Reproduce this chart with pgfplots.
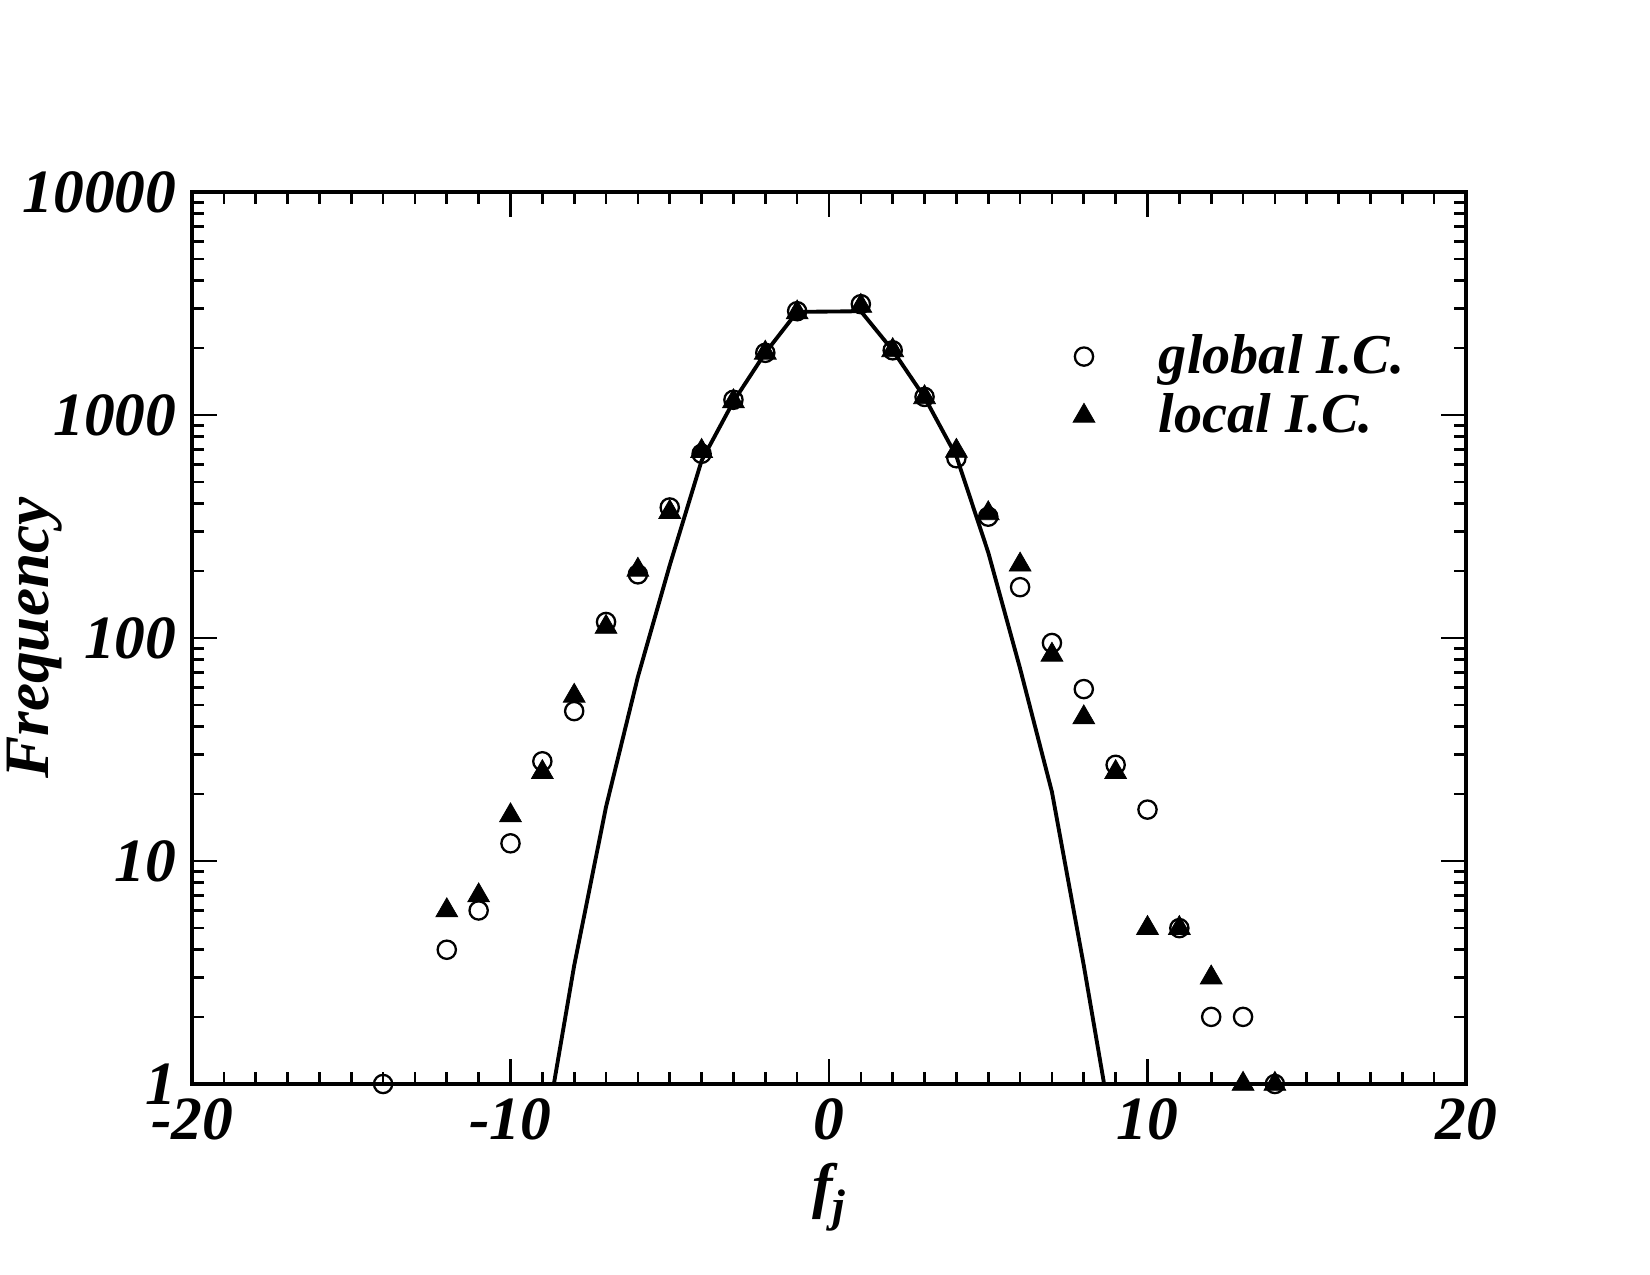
\documentclass[border=0pt]{standalone}
\usepackage{fontspec}
\setmainfont{Liberation Serif}
\usepackage{pgfplots}
\pgfplotsset{compat=1.18}

\begin{document}
\begin{tikzpicture}
\path[use as bounding box] (-19.2mm,-19.1mm) rectangle (145.8mm,108.4mm);
\begin{axis}[
  at={(0,0)}, anchor=south west,
  scale only axis, width=127.4mm, height=89.2mm,
  xmin=-20, xmax=20, ymin=1, ymax=10000, ymode=log,
  xtick={-20,-10,0,10,20},
  xticklabels={-20,-10,0,10,20},
  minor x tick num=9,
  ytick={1,10,100,1000,10000},
  yticklabels={1,10,100,1000,10000},
  tick align=inside, tick pos=both,
  major tick length=2.5mm, minor tick length=1.2mm,
  every tick/.style={black, line width=0.75pt},
  axis line style={line width=1.3pt},
  tick label style={font=\fontsize{17.5}{20}\selectfont\bfseries\itshape},
  xticklabel style={inner sep=0pt, yshift=-1.4mm},
  yticklabel style={inner sep=0pt, xshift=-1.5mm},
  xlabel={f\raisebox{-0.55ex}{\fontsize{13}{15}\selectfont j}},
  xlabel style={font=\fontsize{17.5}{20}\selectfont\bfseries\itshape, at={(axis description cs:0.5,0)}, anchor=north, inner sep=0pt, yshift=-7.8mm},
  ylabel={Frequency},
  ylabel style={font=\fontsize{18}{21}\selectfont\bfseries\itshape, at={(axis description cs:-0.101,0.5)}, anchor=south, inner sep=0pt},
  legend style={at={(0.691,0.849)}, anchor=north west, draw=none, fill=none, inner sep=0pt, column sep=5.7mm, row sep=0.1mm,
    font=\fontsize{16}{19}\selectfont\bfseries\itshape},
  legend cell align=left,
]
\addplot[black, line width=1.1pt, forget plot] coordinates {
(-9,0.5) (-8,3.4) (-7,17.5) (-6,67) (-5,212) (-4,624) (-3,1150) (-2,1900) (-1,2900)
(0,2910) (1,2920) (2,1950) (3,1200) (4,653) (5,242) (6,73) (7,20.4) (8,3.4) (9,0.5)
};
\addplot[only marks, mark=o, mark size=2.6pt, mark options={line width=0.65pt, black}] coordinates {
(-14,1) (-12,4) (-11,6) (-10,12) (-9,28) (-8,47) (-7,118) (-6,193) (-5,385) (-4,670)
(-3,1170) (-2,1900) (-1,2920) (1,3140) (2,1950) (3,1205) (4,640) (5,350) (6,169)
(7,95) (8,59) (9,27) (10,17) (11,5) (12,2) (13,2) (14,1)
};
\addlegendentry{global I.C.}
\addplot[only marks, mark=triangle*, mark size=3.6pt, mark options={fill=black, draw=black, line width=0.2pt}] coordinates {
(-12,6) (-11,7) (-10,16) (-9,25) (-8,55) (-7,112) (-6,202) (-5,367) (-4,689)
(-3,1150) (-2,1900) (-1,2880) (1,3080) (2,1950) (3,1200) (4,690) (5,362) (6,213)
(7,84) (8,44) (9,25) (10,5) (11,5) (12,3) (13,1) (14,1)
};
\addlegendentry{local I.C.}
\end{axis}
\end{tikzpicture}
\end{document}
